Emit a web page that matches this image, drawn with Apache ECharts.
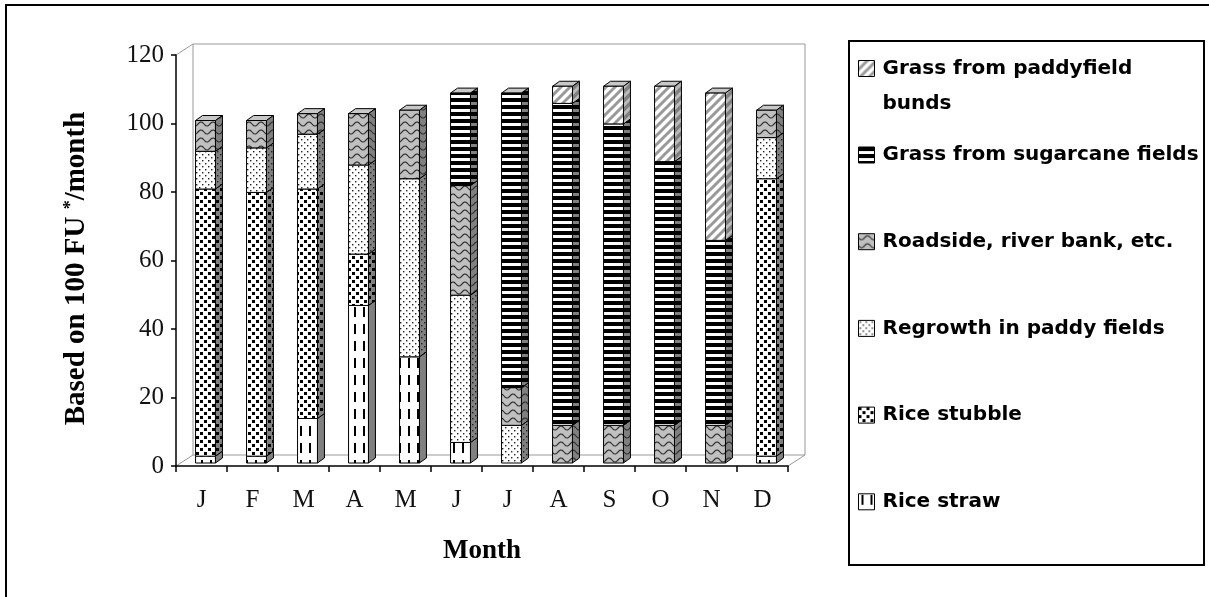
<!DOCTYPE html>
<html><head><meta charset="utf-8">
<script src="https://cdn.jsdelivr.net/npm/echarts@6/dist/echarts.min.js"></script>
<style>html,body{margin:0;padding:0;background:#fff}#c{width:1209px;height:597px}</style>
</head><body><div id="c"></div>
<script>
// ---------------- data ----------------
const months = ['J','F','M','A','M','J','J','A','S','O','N','D'];
const yMin = 0, yMax = 120, yInterval = 20;
const riceStraw  = [2, 2, 13, 46, 31, 6, 0, 0, 0, 0, 0, 2];
const riceStubble = [78, 77, 67, 15, 0, 0, 0, 0, 0, 0, 0, 81];
const regrowth   = [11, 13, 16, 26, 52, 43, 11, 0, 0, 0, 0, 12];
const roadside   = [9, 8, 6, 15, 20, 32, 11, 11, 11, 11, 11, 8];
const sugarcane  = [0, 0, 0, 0, 0, 27, 86, 94, 88, 77, 54, 0];
const bunds      = [0, 0, 0, 0, 0, 0, 0, 5, 11, 22, 43, 0];
const names = ['Rice straw','Rice stubble','Regrowth in paddy fields','Roadside, river bank, etc.','Grass from sugarcane fields','Grass from paddyfield bunds'];
const values = [riceStraw, riceStubble, regrowth, roadside, sugarcane, bunds];

// ---------------- layout ----------------
const G = {left: 176, top: 55, width: 612, height: 411};
const depth = [17, -11];     // back wall offset
const barShift = [4, -3];    // bar front face offset
const barDepth = [7, -5];

// ---------------- patterns ----------------
function tile(w, h, bg, draw) {
  const c = document.createElement('canvas'); c.width = w; c.height = h;
  const g = c.getContext('2d'); g.fillStyle = bg; g.fillRect(0, 0, w, h);
  if (draw) draw(g);
  return {image: c, repeat: 'repeat'};
}
const drawers = [
  (bg) => tile(9, 17, bg, g => { if (bg === '#fff') { g.fillStyle = '#000'; g.fillRect(3, 1, 2, 10); } }),
  (bg) => tile(8, 8, bg, g => { g.fillStyle = '#000'; g.fillRect(0, 0, 3, 3); g.fillRect(4, 4, 3, 3); }),
  (bg) => tile(6, 6, bg, g => { g.fillStyle = '#222'; g.fillRect(1, 1, 1.4, 1.4); g.fillRect(4, 4, 1.4, 1.4); }),
  (bg) => tile(12, 8, bg === '#fff' ? '#c0c0c0' : '#808080', g => {
    g.strokeStyle = '#333'; g.lineWidth = 1.2; g.beginPath();
    for (let x = 0; x <= 12; x += 0.5) { const y = 4 + 2 * Math.sin(2 * Math.PI * x / 12); if (x === 0) g.moveTo(x, y); else g.lineTo(x, y); }
    g.stroke(); }),
  (bg) => tile(4, 7, bg, g => { g.fillStyle = '#000'; g.fillRect(0, 0, 4, 4); }),
  (bg) => tile(9, 9, bg, g => { g.strokeStyle = bg === '#fff' ? '#999' : '#bbb'; g.lineWidth = 3; g.beginPath();
    g.moveTo(-1, 10); g.lineTo(10, -1); g.moveTo(-1, 1); g.lineTo(1, -1); g.moveTo(8, 10); g.lineTo(10, 8); g.stroke(); })
];
const fronts = drawers.map(d => d('#fff'));
const sides = drawers.map(d => d('#808080'));

// ---------------- series ----------------
const cum = months.map(() => 0);
const series = values.map((arr, si) => {
  const data = arr.map((v, i) => { const b = cum[i]; cum[i] += v; return [i, b, b + v]; });
  return {
    name: names[si], type: 'custom', coordinateSystem: 'cartesian2d', xAxisIndex: 0, yAxisIndex: 0,
    itemStyle: {color: fronts[si], borderColor: '#000', borderWidth: 1},
    encode: {x: 0, y: 2},
    data: data,
    renderItem: function (params, api) {
      const base = api.value(1), top = api.value(2);
      if (top - base <= 0) return null;
      const pb = api.coord([api.value(0), base]);
      const pt = api.coord([api.value(0), top]);
      const bw = api.size([1, 0])[0] * 0.39;
      const x0 = pb[0] - bw / 2 + barShift[0], x1 = x0 + bw;
      const yb = pb[1] + barShift[1], yt = pt[1] + barShift[1];
      const dx = barDepth[0], dy = barDepth[1];
      const stroke = {stroke: '#000', lineWidth: 1};
      return {type: 'group', children: [
        {type: 'polygon', shape: {points: [[x0, yt], [x0 + dx, yt + dy], [x1 + dx, yt + dy], [x1, yt]]}, style: Object.assign({fill: '#c8c8c8'}, stroke)},
        {type: 'polygon', shape: {points: [[x1, yb], [x1 + dx, yb + dy], [x1 + dx, yt + dy], [x1, yt]]}, style: Object.assign({fill: sides[si]}, stroke)},
        {type: 'rect', shape: {x: x0, y: yt, width: bw, height: yb - yt}, style: Object.assign({fill: fronts[si]}, stroke)}
      ]};
    }
  };
});

const serif = 'Liberation Serif';
const legendText = {fontFamily: 'DejaVu Sans', fontWeight: 'bold', fontSize: 20, color: '#000'};
const option = {
  animation: false,
  backgroundColor: '#fff',
  grid: [
    {left: G.left, top: G.top, width: G.width, height: G.height, show: false},
    {left: G.left + depth[0], top: G.top + depth[1], width: G.width, height: G.height, show: true, borderColor: '#999', borderWidth: 1, backgroundColor: 'transparent', z: 0}
  ],
  xAxis: [
    {type: 'category', gridIndex: 0, data: months, boundaryGap: true,
     axisLine: {show: true, lineStyle: {color: '#000', width: 1.5}},
     axisTick: {show: true, length: 6, lineStyle: {color: '#000', width: 1.5}},
     axisLabel: {fontFamily: serif, fontSize: 25, color: '#111', margin: 22},
     splitLine: {show: false},
     name: 'Month', nameLocation: 'middle', nameGap: 72,
     nameTextStyle: {fontFamily: serif, fontWeight: 'bold', fontSize: 27, color: '#000'}},
    {type: 'value', gridIndex: 1, show: false}
  ],
  yAxis: [
    {type: 'value', gridIndex: 0, min: yMin, max: yMax, interval: yInterval,
     axisLine: {show: true, lineStyle: {color: '#000', width: 1.5}},
     axisTick: {show: true, length: 5, lineStyle: {color: '#000', width: 1.5}},
     axisLabel: {fontFamily: serif, fontSize: 25, color: '#111', margin: 12},
     splitLine: {show: false},
     name: 'Based on 100 FU {sup|*}/month', nameLocation: 'middle', nameRotate: 90, nameGap: 85,
     nameTextStyle: {fontFamily: serif, fontWeight: 'bold', fontSize: 29, color: '#000', padding: [0, 16, 0, 0],
       rich: {sup: {fontFamily: serif, fontSize: 18, color: '#000', verticalAlign: 'top'}}}},
    {type: 'value', gridIndex: 1, show: false}
  ],
  legend: [
    {data: [names[5]], orient: 'vertical', left: 858, top: 16, padding: 0, itemWidth: 16, itemHeight: 16, icon: 'rect',
     selectedMode: false, formatter: () => '\nGrass from paddyfield\nbunds',
     itemStyle: {borderColor: '#000', borderWidth: 1},
     textStyle: Object.assign({lineHeight: 35, padding: [0, 0, 0, 3]}, legendText)},
    {data: [names[4], names[3], names[2], names[1], names[0]], orient: 'vertical', left: 858, top: 145, padding: 0,
     itemWidth: 16, itemHeight: 16, itemGap: 66.7, icon: 'rect', selectedMode: false,
     itemStyle: {borderColor: '#000', borderWidth: 1},
     textStyle: Object.assign({lineHeight: 20, padding: [0, 0, 0, 3]}, legendText)}
  ],
  graphic: [
    {type: 'rect', z: 0, shape: {x: 6, y: 5, width: 1300, height: 700}, style: {fill: 'none', stroke: '#000', lineWidth: 2}},
    {type: 'rect', z: 0, shape: {x: 849, y: 41, width: 355, height: 524}, style: {fill: 'none', stroke: '#000', lineWidth: 2}},
    {type: 'line', z: 0, shape: {x1: G.left, y1: G.top, x2: G.left + depth[0], y2: G.top + depth[1]}, style: {stroke: '#999', lineWidth: 1}},
    {type: 'line', z: 0, shape: {x1: G.left, y1: G.top + G.height, x2: G.left + depth[0], y2: G.top + G.height + depth[1]}, style: {stroke: '#999', lineWidth: 1}},
    {type: 'line', z: 0, shape: {x1: G.left + G.width, y1: G.top + G.height, x2: G.left + G.width + depth[0], y2: G.top + G.height + depth[1]}, style: {stroke: '#999', lineWidth: 1}}
  ],
  series: series
};
const chart = echarts.init(document.getElementById('c'), null, {renderer: 'canvas'});
chart.setOption(option);
</script></body></html>
